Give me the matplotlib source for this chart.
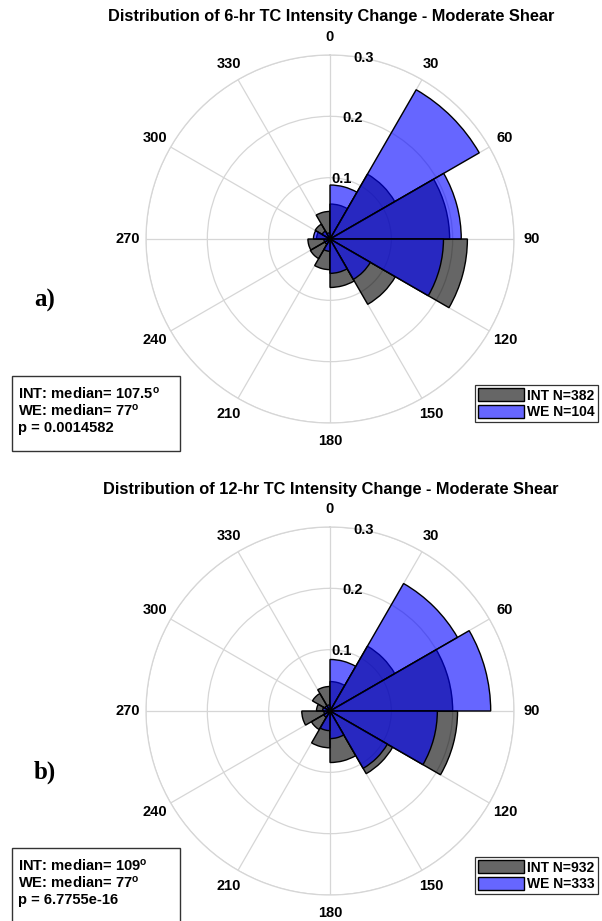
import numpy as np
import matplotlib
matplotlib.use("Agg")
import matplotlib.pyplot as plt
from matplotlib.patches import Patch, Rectangle

plt.rcParams['font.family'] = ['Liberation Sans', 'DejaVu Sans']
plt.rcParams['font.weight'] = 'bold'
plt.rcParams['mathtext.fontset'] = 'custom'
plt.rcParams['mathtext.rm'] = 'Liberation Sans:bold'
plt.rcParams['mathtext.bf'] = 'Liberation Sans:bold'
plt.rcParams['mathtext.default'] = 'rm'

# bin left edges (deg, clockwise from north), 30 deg wide
bin_edges = list(range(0, 360, 30))
theta_labels = [str(a) for a in bin_edges]
r_ticks = [0.1, 0.2, 0.3]

# panel a: 6-hr, relative frequency per bin
int_6hr = [0.057, 0.122, 0.195, 0.224, 0.123, 0.079, 0.050, 0.037, 0.036, 0.022, 0.028, 0.045]
we_6hr = [0.088, 0.281, 0.214, 0.185, 0.076, 0.056, 0.020, 0.010, 0.010, 0.027, 0.015, 0.010]

# panel b: 12-hr
int_12hr = [0.048, 0.122, 0.200, 0.208, 0.118, 0.084, 0.060, 0.035, 0.046, 0.022, 0.033, 0.040]
we_12hr = [0.084, 0.240, 0.262, 0.175, 0.108, 0.045, 0.032, 0.012, 0.010, 0.012, 0.010, 0.010]

titles = ['Distribution of 6-hr TC Intensity Change - Moderate Shear',
          'Distribution of 12-hr TC Intensity Change - Moderate Shear']
stats = [['INT: median= 107.5$^{o}$', 'WE: median= 77$^{o}$', 'p = 0.0014582'],
         ['INT: median= 109$^{o}$', 'WE: median= 77$^{o}$', 'p = 6.7755e-16']]
legend_labels = [['INT N=382', 'WE N=104'], ['INT N=932', 'WE N=333']]
panel_tags = ['a)', 'b)']

W, H = 602, 921
fig = plt.figure(figsize=(W / 100, H / 100), dpi=100)

grid_col = '#d6d6d6'
int_face = (0, 0, 0, 0.6)
we_face = (0, 0, 1, 0.6)


def fx(px):
    return px / W


def fy(py):
    return 1 - py / H


def draw_panel(k, int_vals, we_vals):
    dy = 472 * k
    cx, cy, rad = 330, 239 + dy, 184
    ax = fig.add_axes([fx(cx - rad), fy(cy + rad), 2 * rad / W, 2 * rad / H], projection='polar')
    th = np.deg2rad(bin_edges)
    w = np.deg2rad(30)
    ax.bar(th, int_vals, width=w, align='edge', facecolor=int_face, edgecolor='k', linewidth=1.0, zorder=3)
    ax.bar(th, we_vals, width=w, align='edge', facecolor=we_face, edgecolor='k', linewidth=1.0, zorder=4)
    ax.set_theta_zero_location('N')
    ax.set_theta_direction(-1)
    ax.set_ylim(0, 0.3)
    ax.set_xticks(th)
    ax.set_xticklabels([])
    ax.set_yticks(r_ticks)
    ax.set_yticklabels([])
    ax.tick_params(length=0)
    ax.grid(True, color=grid_col, linewidth=0.9)
    ax.set_axisbelow(True)
    ax.spines['polar'].set_color(grid_col)
    ax.spines['polar'].set_linewidth(0.9)
    for a, lab in zip(bin_edges, theta_labels):
        ax.text(np.deg2rad(a), 0.3 * 202 / 184, lab, ha='center', va='center',
                fontsize=10.5, fontweight='bold', clip_on=False)
    for r in r_ticks:
        ax.text(np.deg2rad(10.5), r, '%.1f' % r, ha='center', va='center',
                fontsize=10.5, fontweight='bold', zorder=5)

    fig.text(fx(331), fy(17 + dy), titles[k], ha='center', va='center', fontsize=11.8, fontweight='bold')
    fig.text(fx(45), fy(300 + dy), panel_tags[k], ha='center', va='center', fontsize=18,
             fontweight='bold', family='Liberation Serif')

    # stats box
    fig.patches.append(Rectangle((fx(12), fy(451 + dy)), (180 - 12) / W, 75 / H,
                                 transform=fig.transFigure, fill=False, edgecolor='#333333',
                                 linewidth=1.0))
    for i, s in enumerate(stats[k]):
        fig.text(fx(18), fy(394 + 17 * i + dy), s, ha='left', va='center', fontsize=10.6, fontweight='bold')

    handles = [Patch(facecolor=int_face, edgecolor='k'), Patch(facecolor=we_face, edgecolor='k')]
    leg = fig.legend(handles, legend_labels[k], loc='upper right', bbox_to_anchor=(fx(598), fy(385 + dy)),
                     borderaxespad=0, fancybox=False, edgecolor='#333333', framealpha=1,
                     handlelength=3.3, handleheight=1.05, handletextpad=0.2, labelspacing=0.15,
                     borderpad=0.25, prop={'size': 10, 'weight': 'bold'})
    leg.get_frame().set_linewidth(0.9)


draw_panel(0, int_6hr, we_6hr)
draw_panel(1, int_12hr, we_12hr)

fig.savefig('out.png', dpi=100)
